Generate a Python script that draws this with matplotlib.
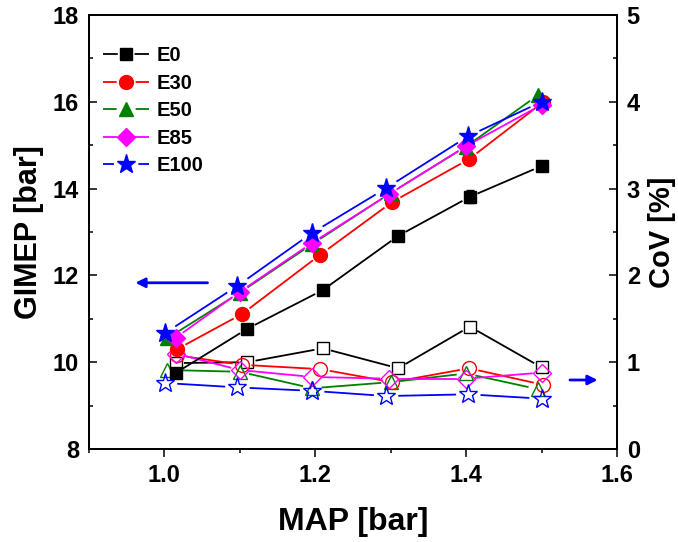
import numpy as np
import matplotlib
matplotlib.use('Agg')
import matplotlib.pyplot as plt
from matplotlib.lines import Line2D
from matplotlib.ticker import MultipleLocator, FormatStrFormatter

plt.rcParams['font.family'] = ['Liberation Sans', 'DejaVu Sans']
plt.rcParams['font.weight'] = 'bold'

fuels = ['E0', 'E30', 'E50', 'E85', 'E100']
colors = ['black', 'red', 'green', 'magenta', 'blue']
markers = ['s', 'o', '^', 'D', '*']
msizes = [8.5, 10, 10, 9, 14]

# MAP [bar] for each fuel
map_e0 = [1.015, 1.11, 1.21, 1.31, 1.405, 1.50]
map_e30 = [1.017, 1.103, 1.207, 1.302, 1.404, 1.502]
map_e50 = [1.004, 1.10, 1.196, 1.30, 1.40, 1.495]
map_e85 = [1.015, 1.10, 1.196, 1.298, 1.40, 1.50]
map_e100 = [1.001, 1.097, 1.196, 1.294, 1.403, 1.50]

# GIMEP [bar]
gimep_e0 = [9.75, 10.77, 11.66, 12.91, 13.81, 14.52]
gimep_e30 = [10.3, 11.11, 12.48, 13.69, 14.68, 15.99]
gimep_e50 = [10.55, 11.6, 12.72, 13.9, 14.97, 16.15]
gimep_e85 = [10.56, 11.62, 12.75, 13.87, 14.98, 15.93]
gimep_e100 = [10.67, 11.76, 12.98, 14.01, 15.21, 16.0]
gimep_err_e0 = [0.05, 0.05, 0.05, 0.06, 0.15, 0.08]

# CoV of GIMEP [%]
cov_e0 = [0.99, 1.0, 1.16, 0.93, 1.41, 0.94]
cov_e30 = [1.08, 0.97, 0.92, 0.77, 0.93, 0.74]
cov_e50 = [0.91, 0.89, 0.70, 0.77, 0.87, 0.69]
cov_e85 = [1.10, 0.91, 0.83, 0.81, 0.81, 0.88]
cov_e100 = [0.76, 0.71, 0.67, 0.61, 0.63, 0.58]

maps = [map_e0, map_e30, map_e50, map_e85, map_e100]
gimeps = [gimep_e0, gimep_e30, gimep_e50, gimep_e85, gimep_e100]
covs = [cov_e0, cov_e30, cov_e50, cov_e85, cov_e100]

DPI = 100
LW = 1.3


def gapped_line(axis, xs, ys, gap, **kw):
    # connect points with segments that stop short of each marker
    pts = axis.transData.transform(np.column_stack([xs, ys]))
    inv = axis.transData.inverted()
    for p, q in zip(pts[:-1], pts[1:]):
        d = q - p
        L = np.hypot(d[0], d[1])
        if L <= 2 * gap:
            continue
        u = d / L
        seg = inv.transform(np.array([p + u * gap, q - u * gap]))
        axis.plot(seg[:, 0], seg[:, 1], solid_capstyle='butt', **kw)


fig = plt.figure(figsize=(6.78, 5.42), dpi=DPI)
ax = fig.add_axes([0.131, 0.1716, 0.779, 0.8007])
ax2 = ax.twinx()

ax.set_xlim(0.9, 1.6)
ax.set_ylim(8, 18)
ax2.set_ylim(0, 5)

for i in range(len(fuels)):
    gap = msizes[i] * DPI / 72 / 2 + 2.5
    gapped_line(ax2, maps[i], covs[i], gap, color=colors[i], lw=LW)
    ax2.plot(maps[i], covs[i], ls='none', marker=markers[i], ms=msizes[i],
             mfc='none', mec=colors[i], mew=1.0)

ax.errorbar(map_e0, gimep_e0, yerr=gimep_err_e0, fmt='none', ecolor='black',
            elinewidth=1.0, capsize=3, zorder=3)
for i in range(len(fuels)):
    gap = msizes[i] * DPI / 72 / 2 + 2.5
    gapped_line(ax, maps[i], gimeps[i], gap, color=colors[i], lw=LW, zorder=3)
    ax.plot(maps[i], gimeps[i], ls='none', color=colors[i], marker=markers[i],
            ms=msizes[i], zorder=3)

ax.set_zorder(ax2.get_zorder() + 1)
ax.patch.set_visible(False)

ax.xaxis.set_major_locator(MultipleLocator(0.2))
ax.xaxis.set_minor_locator(MultipleLocator(0.1))
ax.yaxis.set_major_locator(MultipleLocator(2))
ax.yaxis.set_minor_locator(MultipleLocator(1))
ax2.yaxis.set_major_locator(MultipleLocator(1))
ax2.yaxis.set_minor_locator(MultipleLocator(0.5))
ax.xaxis.set_major_formatter(FormatStrFormatter('%.1f'))

ax.tick_params(axis='x', which='major', direction='out', length=6, width=1.1,
               labelsize=17, pad=5, top=False)
ax.tick_params(axis='x', which='minor', direction='out', length=3, width=1.1, top=False)
ax.tick_params(axis='y', which='major', direction='in', length=6, width=1.1,
               labelsize=17, pad=7)
ax.tick_params(axis='y', which='minor', direction='in', length=3, width=1.1)
ax2.tick_params(axis='y', which='major', direction='in', length=6, width=1.1,
                labelsize=17, pad=7)
ax2.tick_params(axis='y', which='minor', direction='in', length=3, width=1.1)

for a in (ax, ax2):
    for s in a.spines.values():
        s.set_linewidth(1.3)

ax.set_xlabel('MAP [bar]', fontsize=23, fontweight='bold', labelpad=14)
ax.set_ylabel('GIMEP [bar]', fontsize=22, fontweight='bold', labelpad=6)
ax2.set_ylabel('CoV [%]', fontsize=21, fontweight='bold', labelpad=6)

# legend handles: line - marker - line, with a break around the marker
leg_size = 14.5
leg_hlen = 2.3
handles = []
for i in range(len(fuels)):
    total = leg_hlen * leg_size
    off = msizes[i] + 3.6
    on = (total - off) / 2
    handles.append(Line2D([], [], color=colors[i], marker=markers[i], ms=msizes[i],
                          lw=LW, dashes=(on / LW, off / LW)))
ax.legend(handles, fuels, loc='upper left', bbox_to_anchor=(0.0, 0.96),
          frameon=False, handlelength=leg_hlen, handletextpad=0.35, labelspacing=0.42,
          borderaxespad=0.3, prop={'weight': 'bold', 'size': leg_size})

# arrows pointing to the axis each group belongs to
ax.annotate('', xy=(0.958, 11.83), xytext=(1.061, 11.83),
            arrowprops=dict(arrowstyle='-|>', color='blue', lw=2, mutation_scale=14))
ax2.annotate('', xy=(1.578, 0.795), xytext=(1.534, 0.795),
             arrowprops=dict(arrowstyle='-|>', color='blue', lw=2, mutation_scale=14))

fig.savefig('out.png', dpi=DPI)
